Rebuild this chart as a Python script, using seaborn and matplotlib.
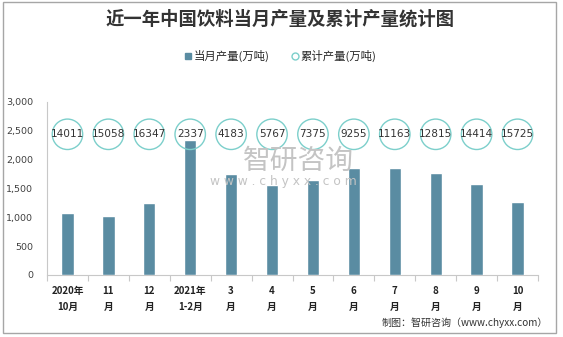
import matplotlib
matplotlib.use("Agg")
import matplotlib.pyplot as plt
import seaborn as sns
import pandas as pd
from matplotlib.lines import Line2D
from matplotlib.patches import Rectangle

categories = ["2020年\n10月", "11\n月", "12\n月", "2021年\n1-2月", "3\n月", "4\n月",
              "5\n月", "6\n月", "7\n月", "8\n月", "9\n月", "10\n月"]
monthly = [1070, 1023, 1243, 2337, 1746, 1560, 1647, 1861, 1861, 1763, 1572, 1271]
cumulative = [14011, 15058, 16347, 2337, 4183, 5767, 7375, 9255, 11163, 12815, 14414, 15725]
circle_level = [2440] * 12

sns.set_theme(style="white")
plt.rcParams['font.family'] = ['Noto Sans CJK SC', 'DejaVu Sans']

bar_color = "#5A8CA2"
circle_color = "#7CCFCB"

df = pd.DataFrame({"cat": categories, "monthly": monthly, "level": circle_level,
                   "cum": cumulative})

fig = plt.figure(figsize=(5.63, 3.37), dpi=100)
ax = fig.add_axes([47/563, 1-275/337, (538-47)/563, (275-102)/337])

# watermark (behind)
fig.text(243/563, 1-161/337, "智研咨询", fontsize=20, color="#C4C4C4",
         ha="left", va="center", zorder=0)
fig.text(210/563, 1-181/337, "w w w . c h y x x . c o m", fontsize=8.8,
         color="#C4C4C4", ha="left", va="center", zorder=0, family=['DejaVu Sans'])
ax.patch.set_alpha(0)

sns.barplot(data=df, x="cat", y="monthly", color=bar_color, width=0.3,
            saturation=1, ax=ax, zorder=3)
xs = list(range(len(categories)))
ax.scatter(xs, df["level"], s=480, facecolors="none", edgecolors=circle_color,
           linewidths=1.0, zorder=4, clip_on=False)
for x, lv, c in zip(xs, df["level"], df["cum"]):
    ax.text(x, lv, str(c), ha="center", va="center", fontsize=7.6, color="#333333",
            zorder=5, family=['DejaVu Sans'])

ax.set_ylim(0, 3000)
ax.set_xlim(-0.5, len(categories) - 0.5)
ax.set_yticks([0, 500, 1000, 1500, 2000, 2500, 3000])
ax.set_yticklabels(["0", "500", "1,000", "1,500", "2,000", "2,500", "3,000"],
                   fontsize=6.8, color="#404040", family=['DejaVu Sans'])
ax.tick_params(axis="y", length=0, pad=10)
ax.set_xticks(xs)
ax.set_xticklabels(categories, fontsize=7, fontweight="bold", color="#222222",
                   linespacing=1.75)
ax.tick_params(axis="x", which="major", length=0, pad=8)
ax.set_xticks([i - 0.5 for i in range(len(categories) + 1)], minor=True)
ax.tick_params(axis="x", which="minor", length=4, color="#C8C8C8", width=0.8,
               bottom=True)
ax.set_xlabel("")
ax.set_ylabel("")
for s in ["top", "right"]:
    ax.spines[s].set_visible(False)
ax.spines["left"].set_color("#C8C8C8")
ax.spines["bottom"].set_color("#C8C8C8")
ax.spines["left"].set_linewidth(0.8)
ax.spines["bottom"].set_linewidth(0.8)
ax.grid(False)

# title
fig.text(280/563, 1-19/337, "近一年中国饮料当月产量及累计产量统计图", fontsize=13.2,
         fontweight="bold", color="#333333", ha="center", va="center")

# legend
handles = [
    Line2D([], [], marker="s", linestyle="none", markersize=5,
           markerfacecolor=bar_color, markeredgecolor=bar_color),
    Line2D([], [], marker="o", linestyle="none", markersize=5,
           markerfacecolor="white", markeredgecolor=circle_color),
]
fig.legend(handles, ["当月产量(万吨)", "累计产量(万吨)"], loc="center",
           bbox_to_anchor=(280/563, 1-56/337), ncol=2, frameon=False,
           fontsize=8.2, handletextpad=0.1, columnspacing=1.8, handlelength=0.8)

# footer
fig.text(548/563, 1-323/337, "制图：智研咨询（www.chyxx.com）", fontsize=7.2,
         color="#333333", ha="right", va="center")

# frame
fig.patches.append(Rectangle((3/563, 4/337), 553/563, 331/337, transform=fig.transFigure,
                             fill=False, edgecolor="#A6A6A6", linewidth=1.0))

fig.savefig("out.png", dpi=100)
